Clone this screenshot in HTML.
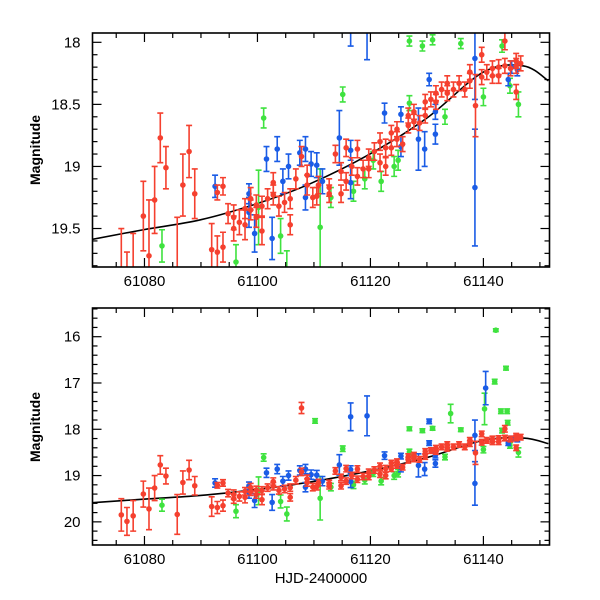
<!DOCTYPE html>
<html><head><meta charset="utf-8"><style>
html,body{margin:0;padding:0;background:#fff;}
svg{display:block;font-family:"Liberation Sans",Helvetica,sans-serif;}
</style></head><body>
<svg id="chart" width="600" height="600" viewBox="0 0 600 600">
<defs>
<clipPath id="clipTop"><rect x="92.5" y="33" width="457" height="234"/></clipPath>
<clipPath id="clipBot"><rect x="92.5" y="308" width="457" height="237"/></clipPath>
</defs>
<g id="top"></g>
<g id="bot"></g>
<text x="40" y="150" transform="rotate(-90 40 150)" text-anchor="middle" font-size="14" font-weight="bold">Magnitude</text>
<text x="40" y="427" transform="rotate(-90 40 427)" text-anchor="middle" font-size="14" font-weight="bold">Magnitude</text>
<text x="321" y="583" text-anchor="middle" font-size="15">HJD-2400000</text>
</svg>
<script>
const redDays=[61075.9,61076.9,61078.0,61079.8,61080.8,61081.8,61082.8,61083.8,61085.8,61086.8,61087.9,61088.9,61091.9,61092.9,61093.9,61092.9,61093.9,61094.8,61095.8,61095.8,61096.8,61097.8,61097.8,61098.8,61098.8,61099.8,61099.8,61100.8,61100.8,61101.8,61102.8,61102.8,61103.8,61104.8,61105.8,61105.8,61106.8,61107.8,61107.8,61108.8,61108.8,61109.8,61110.5,61110.8,61112.7,61112.7,61113.8,61114.8,61114.8,61115.7,61115.7,61116.7,61117.7,61117.7,61118.7,61119.7,61119.7,61120.7,61121.7,61121.7,61122.7,61122.7,61123.7,61123.7,61124.7,61124.7,61125.7,61126.7,61126.7,61127.7,61127.7,61128.7,61129.7,61129.7,61130.7,61131.6,61131.6,61132.6,61133.6,61133.6,61134.7,61135.7,61136.7,61137.6,61137.6,61138.6,61139.7,61139.7,61140.6,61141.6,61141.6,61142.7,61142.7,61143.8,61143.8,61144.8,61145.8,61145.8,61146.6,61145.8];
const redMags=[19.85,19.99,19.87,19.40,19.72,19.27,18.77,19.01,19.84,19.15,18.88,19.22,19.67,19.69,19.65,19.21,19.16,19.38,19.41,19.50,19.45,19.34,19.47,19.26,19.35,19.31,19.41,19.32,19.52,19.26,19.13,19.23,19.32,19.29,19.47,19.26,19.10,18.92,17.54,19.15,19.07,19.25,19.24,19.15,19.17,19.22,18.90,19.04,19.22,18.85,19.12,19.00,18.86,19.08,19.02,18.93,19.02,18.88,18.80,18.97,19.00,18.85,18.73,18.85,18.70,18.78,18.82,18.59,18.67,18.64,18.56,18.65,18.48,18.59,18.46,18.41,18.48,18.38,18.41,18.33,18.38,18.33,18.38,18.31,18.24,18.51,18.10,18.28,18.24,18.27,18.21,18.20,18.27,17.99,18.19,18.21,18.15,18.19,18.17,18.40];
const redErrs=[0.35,0.30,0.33,0.28,0.45,0.27,0.20,0.17,0.43,0.25,0.21,0.20,0.21,0.13,0.12,0.06,0.07,0.08,0.10,0.10,0.10,0.08,0.12,0.09,0.08,0.08,0.08,0.08,0.11,0.08,0.08,0.08,0.08,0.08,0.08,0.08,0.08,0.08,0.12,0.08,0.08,0.08,0.07,0.07,0.07,0.07,0.07,0.07,0.07,0.07,0.07,0.07,0.07,0.07,0.07,0.07,0.07,0.07,0.07,0.07,0.07,0.07,0.06,0.06,0.06,0.06,0.06,0.06,0.06,0.06,0.06,0.06,0.06,0.06,0.06,0.06,0.06,0.06,0.06,0.06,0.06,0.06,0.06,0.06,0.06,0.25,0.06,0.06,0.06,0.06,0.06,0.06,0.06,0.07,0.06,0.06,0.06,0.06,0.06,0.06];
const blueDays=[61092.5,61098.5,61098.5,61099.5,61101.6,61102.6,61103.5,61104.5,61105.5,61107.5,61108.5,61108.5,61109.5,61110.5,61111.5,61114.5,61116.5,61116.5,61116.5,61119.4,61122.5,61125.4,61125.4,61128.5,61129.6,61130.4,61130.4,61131.5,61131.5,61138.5,61138.5,61140.4,61144.4,61145.0,61146.0];
const blueMags=[19.16,19.37,19.22,19.54,18.94,19.58,18.86,19.12,19.00,18.89,18.86,19.25,18.98,18.99,19.12,18.77,19.13,18.87,17.73,17.71,18.57,18.58,18.84,18.78,18.86,18.30,17.83,18.74,18.56,19.17,18.13,17.11,18.30,18.20,18.22];
const blueErrs=[0.09,0.12,0.08,0.15,0.10,0.17,0.10,0.10,0.10,0.10,0.10,0.10,0.10,0.10,0.10,0.22,0.13,0.08,0.30,0.43,0.08,0.06,0.08,0.25,0.14,0.05,0.05,0.08,0.06,0.47,0.33,0.36,0.05,0.05,0.05];
const greenDays=[61083.1,61096.2,61100.2,61101.1,61104.1,61105.2,61110.2,61111.1,61113.0,61115.1,61117.0,61119.0,61120.5,61121.9,61124.2,61124.9,61126.9,61126.9,61129.2,61131.0,61133.2,61134.2,61136.0,61140.0,61140.2,61142.2,61142.0,61143.3,61143.1,61144.2,61144.0,61144.3,61144.7,61146.2];
const greenMags=[19.64,19.77,19.33,18.61,19.56,19.83,17.82,19.49,19.25,18.42,19.20,19.10,18.95,19.12,19.00,18.95,18.49,17.99,18.03,17.98,18.60,17.66,18.01,18.44,17.56,15.86,16.97,18.03,17.61,17.61,16.68,17.86,18.35,18.50];
const greenErrs=[0.13,0.14,0.30,0.08,0.14,0.15,0.05,0.47,0.08,0.06,0.08,0.08,0.07,0.08,0.08,0.08,0.06,0.04,0.04,0.04,0.06,0.20,0.04,0.07,0.34,0.03,0.05,0.05,0.05,0.05,0.04,0.05,0.06,0.10];
const curveDays=[61070.4,61079.8,61089.9,61099.9,61109.3,61119.9,61130.0,61140.0,61147.1,61151.5];
const curveMags=[19.59,19.51,19.43,19.30,19.14,18.90,18.61,18.24,18.19,18.31];
const xTicks=[61080,61100,61120,61140];
const topYTicks=[18,18.5,19,19.5];
const botYTicks=[16,17,18,19,20];

const NS='http://www.w3.org/2000/svg';
const X0=92.5,X1=549.5,D0=61070.8,D1=61151.7;
function xs(d){return X0+(d-D0)/(D1-D0)*(X1-X0);}
function mk(tag,attrs,parent){const e=document.createElementNS(NS,tag);for(const k in attrs)e.setAttribute(k,attrs[k]);parent.appendChild(e);return e;}

function panel(g,clip,top,bot,m0,m1,majors,minorStep,labelFmt,prefix){
  const ys=m=>top+(m-m0)/(m1-m0)*(bot-top);
  const data=mk('g',{'clip-path':'url(#'+clip+')'},g);
  let pts=curveDays.map((d,i)=>[xs(d),ys(curveMags[i])]);
  let dstr='M'+pts[0][0]+','+pts[0][1];
  for(let i=0;i<pts.length-1;i++){
    const p0=pts[Math.max(0,i-1)],p1=pts[i],p2=pts[i+1],p3=pts[Math.min(pts.length-1,i+2)];
    const c1=[p1[0]+(p2[0]-p0[0])/6,p1[1]+(p2[1]-p0[1])/6];
    const c2=[p2[0]-(p3[0]-p1[0])/6,p2[1]-(p3[1]-p1[1])/6];
    dstr+=' C'+c1[0]+','+c1[1]+' '+c2[0]+','+c2[1]+' '+p2[0]+','+p2[1];
  }
  const cv=mk('path',{d:dstr,fill:'none',stroke:'#000','stroke-width':1.6},data);
  
  
  const series=[['green',greenDays,greenMags,greenErrs,'#3fe23f'],['blue',blueDays,blueMags,blueErrs,'#1a5ce6'],['red',redDays,redMags,redErrs,'#f5402f']];
  series.forEach(([nm,ds,ms,es,col])=>{
    const sg=mk('g',{},data);
    
    
    ds.forEach((d,i)=>{
      const x=xs(d),y=ys(ms[i]),ya=ys(ms[i]-es[i]),yb=ys(ms[i]+es[i]);
      const pg=mk('g',{},sg);
      
      
      mk('path',{d:`M${x},${ya}V${yb}M${x-3},${ya}H${x+3}M${x-3},${yb}H${x+3}`,stroke:col,'stroke-width':1.6,fill:'none'},pg);
      mk('circle',{cx:x,cy:y,r:2.8,fill:col},pg);
    });
  });
  const fr=mk('rect',{x:X0,y:top,width:X1-X0,height:bot-top,fill:'none',stroke:'#000','stroke-width':1.6},g);
  
  
  const ax=mk('g',{stroke:'#000','stroke-width':1.2},g);
  
  
  for(let d=61075;d<=61150;d+=5){
    const x=xs(d),L=(d%20===0)?9:5;
    mk('line',{x1:x,y1:bot,x2:x,y2:bot-L},ax);
    mk('line',{x1:x,y1:top,x2:x,y2:top+L},ax);
  }
  xTicks.forEach(d=>{
    const t=mk('text',{x:xs(d),y:bot+19,'text-anchor':'middle','font-size':15,stroke:'none',fill:'#000'},g);
    t.textContent=String(d);
    
    
  });
  const ay=mk('g',{stroke:'#000','stroke-width':1.2},g);
  
  
  const n0=Math.ceil(m0/minorStep-1e-6),n1=Math.floor(m1/minorStep+1e-6);
  for(let n=n0;n<=n1;n++){
    const m=n*minorStep,y=ys(m);
    const isMaj=majors.some(v=>Math.abs(v-m)<1e-6);
    const L=isMaj?9:5;
    mk('line',{x1:X0,y1:y,x2:X0+L,y2:y},ay);
    mk('line',{x1:X1,y1:y,x2:X1-L,y2:y},ay);
  }
  majors.forEach(m=>{
    const t=mk('text',{x:X0-12,y:ys(m)+5,'text-anchor':'end','font-size':15,fill:'#000'},g);
    t.textContent=labelFmt(m);
    
    
  });
}
panel(document.getElementById('top'),'clipTop',33,267,17.925,19.81,topYTicks,0.1,m=>String(m),'top');
panel(document.getElementById('bot'),'clipBot',308,545,15.38,20.5,botYTicks,0.2,m=>String(m),'bottom');
</script>
</body></html>
